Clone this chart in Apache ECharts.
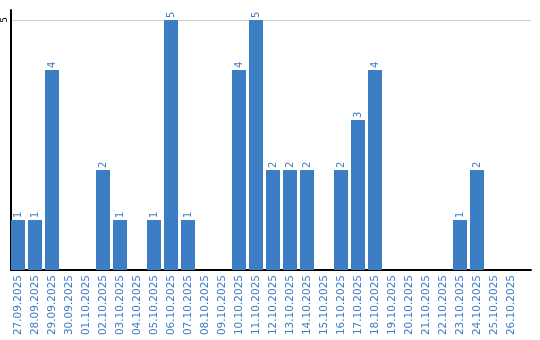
<!DOCTYPE html>
<html>
<head>
<meta charset="utf-8">
<style>html,body{margin:0;padding:0;background:#fff;}#c{width:540px;height:340px;}</style>
<script src="https://cdn.jsdelivr.net/npm/echarts@6/dist/echarts.min.js"></script>
</head>
<body>
<div id="c"></div>
<script>
const categories = ['27.09.2025','28.09.2025','29.09.2025','30.09.2025','01.10.2025','02.10.2025','03.10.2025','04.10.2025','05.10.2025','06.10.2025','07.10.2025','08.10.2025','09.10.2025','10.10.2025','11.10.2025','12.10.2025','13.10.2025','14.10.2025','15.10.2025','16.10.2025','17.10.2025','18.10.2025','19.10.2025','20.10.2025','21.10.2025','22.10.2025','23.10.2025','24.10.2025','25.10.2025','26.10.2025'];
const counts = [1,1,4,0,0,2,1,0,1,5,1,0,0,4,5,2,2,2,0,2,3,4,0,0,0,0,1,2,0,0];
const yMin = 0, yMax = 5.2, yInterval = 5;

const blue = '#3b7ec3';
const chart = echarts.init(document.getElementById('c'), null, {renderer:'canvas'});
chart.setOption({
  animation: false,
  textStyle: {fontFamily: 'DejaVu Sans'},
  grid: [
    {left: 10, width: 521, top: 10, height: 260, containLabel: false},
    {left: 9.5, width: 510, top: 10, height: 260, containLabel: false}
  ],
  xAxis: [
    {gridIndex: 0, type: 'value', min: 0, max: 1,
     axisLine: {show: true, lineStyle: {color: '#000', width: 2}},
     axisTick: {show: false}, axisLabel: {show: false}, splitLine: {show: false}},
    {gridIndex: 1, type: 'category', data: categories,
     axisLine: {show: false}, axisTick: {show: false},
     axisLabel: {interval: 0, rotate: 90, margin: 5, color: blue, fontSize: 10.5, fontFamily: 'DejaVu Sans'}}
  ],
  yAxis: [
    {gridIndex: 0, type: 'value', min: yMin, max: yMax, interval: yInterval,
     axisLine: {show: true, lineStyle: {color: '#000', width: 2}},
     axisTick: {show: false},
     axisLabel: {rotate: 90, margin: 2, color: '#000', fontSize: 9, showMinLabel: false, showMaxLabel: false},
     splitLine: {show: true, showMinLine: false, showMaxLine: false, lineStyle: {color: '#cccccc', width: 1}}},
    {gridIndex: 1, type: 'value', min: yMin, max: yMax, interval: yInterval,
     axisLine: {show: false}, axisTick: {show: false}, axisLabel: {show: false}, splitLine: {show: false}}
  ],
  series: [{
    type: 'bar', xAxisIndex: 1, yAxisIndex: 1,
    data: counts, barWidth: 14,
    itemStyle: {color: blue},
    label: {show: true, position: 'top', rotate: 90, align: 'left', verticalAlign: 'middle', distance: 2,
      color: blue, fontSize: 10, fontFamily: 'DejaVu Sans',
      formatter: p => p.value ? String(p.value) : ''}
  }]
});
</script>
</body>
</html>
